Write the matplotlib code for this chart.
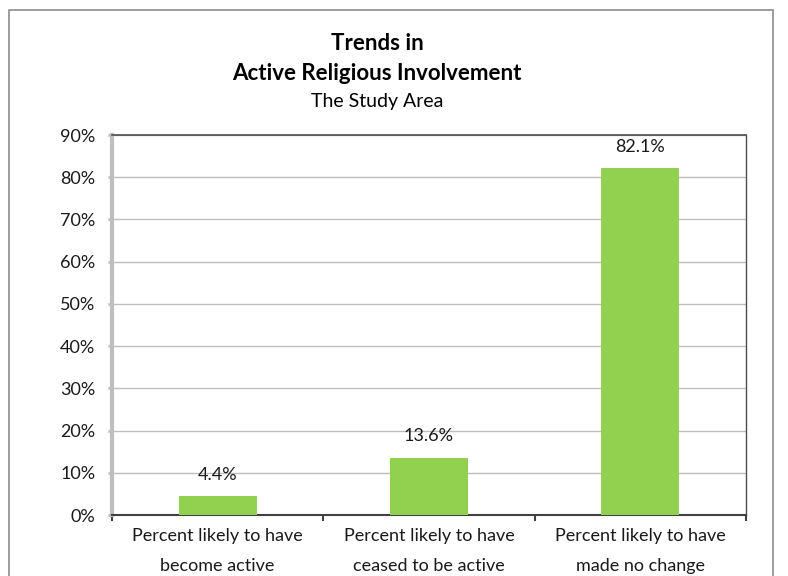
import numpy as np
import matplotlib.pyplot as plt
from matplotlib.patches import Rectangle

plt.rcParams['font.family'] = ['Lato', 'DejaVu Sans']

categories = ['Percent likely to have\nbecome active',
              'Percent likely to have\nceased to be active',
              'Percent likely to have\nmade no change']
values = [4.4, 13.6, 82.1]
labels = ['4.4%', '13.6%', '82.1%']
yticks = [0, 10, 20, 30, 40, 50, 60, 70, 80, 90]

W, H = 788, 576
fig = plt.figure(figsize=(W / 100, H / 100), dpi=100)

# outer chart border (bottom edge runs off the picture)
fig.patches.append(Rectangle((9 / W, -0.02), 764 / W, 1 - 10 / H + 0.02,
                             transform=fig.transFigure, fill=False,
                             edgecolor='#8c8c8c', linewidth=1.2))

ax = fig.add_axes([112 / W, 1 - 515 / H, (746 - 112) / W, (515 - 135) / H])

x = np.arange(len(values))
ax.bar(x, values, width=0.37, color='#92d050', zorder=3)
for xi, v, lab in zip(x, values, labels):
    ax.annotate(lab, (xi, v), xytext=(0, 15.5), textcoords='offset points',
                ha='center', va='center', fontsize=13, color='#1a1a1a')

ax.set_xlim(-0.5, 2.5)
ax.set_ylim(0, 90)
ax.set_yticks(yticks)
ax.set_yticklabels([f'{t}%' for t in yticks], fontsize=13, color='#1a1a1a')
ax.set_xticks(x)
ax.set_xticklabels(categories, fontsize=13, linespacing=2.1, color='#1a1a1a')
ax.tick_params(axis='x', length=0, pad=9)
ax.tick_params(axis='y', length=3, width=2, color='#bfbfbf', pad=9)

# ticks between the categories
ax.set_xticks([-0.5, 0.5, 1.5, 2.5], minor=True)
ax.tick_params(axis='x', which='minor', length=4, width=1.5, color='#404040', direction='out')

ax.grid(axis='y', color='#bdbdbd', linewidth=1, zorder=0)
ax.spines['left'].set_color('#bfbfbf')
ax.spines['left'].set_linewidth(3)
ax.spines['bottom'].set_color('#404040')
ax.spines['bottom'].set_linewidth(1.5)
ax.spines['top'].set_color('#4d4d4d')
ax.spines['top'].set_linewidth(1.2)
ax.spines['right'].set_color('#4d4d4d')
ax.spines['right'].set_linewidth(1)

cx = 377 / W
fig.text(cx, 1 - 44 / H, 'Trends in', ha='center', va='center',
         fontsize=16, fontweight='bold')
fig.text(cx, 1 - 74 / H, 'Active Religious Involvement', ha='center', va='center',
         fontsize=16, fontweight='bold')
fig.text(cx, 1 - 101 / H, 'The Study Area', ha='center', va='center', fontsize=14)

fig.savefig('out.png', dpi=100)
